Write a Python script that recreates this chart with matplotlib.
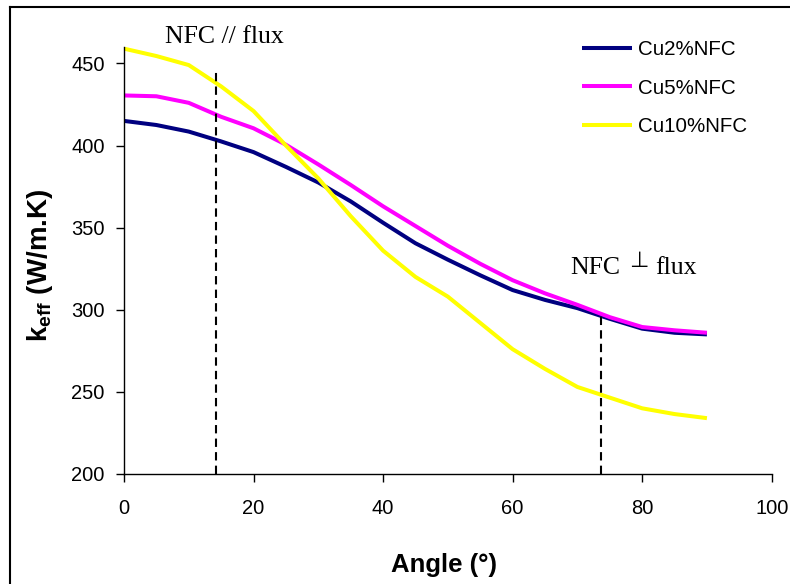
import matplotlib
matplotlib.use("Agg")
import matplotlib.pyplot as plt
from matplotlib.lines import Line2D

angles = [0, 5, 10, 15, 20, 25, 30, 35, 40, 45, 50, 55, 60, 65, 70, 75, 80, 85, 90]
cu2 = [415, 412.5, 408.5, 402.5, 396, 387, 377.5, 366, 353, 340.5, 330.5, 321, 312, 306, 301, 294.5, 288.5, 286, 285]
cu5 = [430.5, 430, 426, 417.5, 410.5, 400.5, 388.5, 376, 363, 351, 339, 328, 318, 310, 303, 295.5, 289.5, 287.5, 286]
cu10 = [459, 454.5, 449, 436, 421, 400, 380, 357, 336, 320, 308, 292, 276, 264, 253, 246.5, 240, 236.5, 234]
series_names = ["Cu2%NFC", "Cu5%NFC", "Cu10%NFC"]
series_colors = ["#000080", "#FF00FF", "#FFFF00"]
dash_x = [14.2, 73.6]
dash_top = [446, 296]
x_ticks = [0, 20, 40, 60, 80, 100]
y_ticks = [200, 250, 300, 350, 400, 450]

plt.rcParams['mathtext.fontset'] = 'custom'
plt.rcParams['mathtext.rm'] = 'Liberation Sans'
plt.rcParams['mathtext.bf'] = 'Liberation Sans:bold'

W, H = 790, 584
fig = plt.figure(figsize=(7.9, 5.84), dpi=100)
ax = fig.add_axes([124 / W, 1 - 474 / H, 647.7 / W, 427 / H])

for ys, name, c in zip([cu2, cu5, cu10], series_names, series_colors):
    ax.plot(angles, ys, color=c, lw=2.9, label=name, solid_capstyle='butt')

for xv, top in zip(dash_x, dash_top):
    ax.plot([xv, xv], [200, top], color='black', lw=1.5, ls=(0, (4, 2.5)))

ax.set_xlim(0, 100)
ax.set_ylim(200, 460)
ax.set_xticks(x_ticks)
ax.set_yticks(y_ticks)
ax.spines['top'].set_visible(False)
ax.spines['right'].set_visible(False)
for s in ['left', 'bottom']:
    ax.spines[s].set_linewidth(1.0)
ax.tick_params(direction='out', length=6, width=1, labelsize=14.5)
ax.tick_params(axis='x', pad=12)
ax.tick_params(axis='y', pad=8)
for lab in ax.get_xticklabels() + ax.get_yticklabels():
    lab.set_fontfamily('Liberation Sans')

ax.set_xlabel('Angle (°)', fontsize=18.5, fontweight='bold', family='Liberation Sans')
ax.xaxis.set_label_coords((444 - 124) / 647.7, (474 - 553) / 427)
ax.set_ylabel(r'$\mathbf{k_{eff}}$ (W/m.K)', fontsize=20, fontweight='bold', family='Liberation Sans')
ax.yaxis.set_label_coords((55 - 124) / 647.7, (474 - 265) / 427)

leg = ax.legend(loc='upper left', bbox_to_anchor=(582 / W, 1 - 40 / H), bbox_transform=fig.transFigure,
                frameon=False, prop={'family': 'Liberation Sans', 'size': 14.8},
                handlelength=2.43, handletextpad=0.29, labelspacing=0.95,
                borderpad=0, borderaxespad=0)

fig.text(224 / W, 1 - 43 / H, 'NFC // flux', family='Liberation Serif', fontsize=18.5,
         ha='center', va='baseline')
fig.text(570.7 / W, 1 - 274 / H, 'NFC', family='Liberation Serif', fontsize=18.5,
         ha='left', va='baseline')
fig.text(638.3 / W, 1 - 267 / H, '⊥', family=['DejaVu Sans'], fontsize=16,
         ha='center', va='baseline')
fig.text(655 / W, 1 - 274 / H, 'flux', family='Liberation Serif', fontsize=18.5,
         ha='left', va='baseline')

fig.add_artist(Line2D([10 / W, 10 / W], [0, 1 - 7 / H], transform=fig.transFigure, color='black', lw=1.5))
fig.add_artist(Line2D([10 / W, 1], [1 - 7 / H, 1 - 7 / H], transform=fig.transFigure, color='black', lw=1.5))

fig.savefig('out.png', dpi=100)
